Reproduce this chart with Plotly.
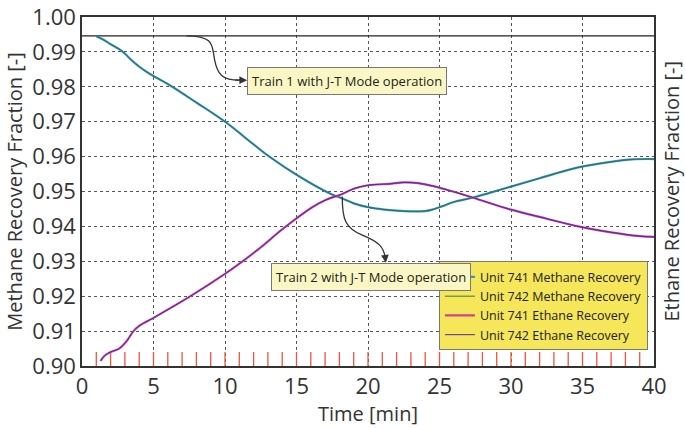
import plotly.graph_objects as go

# ---- data ----
time_methane = [1.0, 1.5, 2.0, 2.6, 3.0, 3.5, 4.0, 4.7, 6.0, 8.0, 10.0, 12.0, 13.1, 15.2,
                17.3, 18.2, 19.0, 20.0, 21.0, 22.0, 23.0, 24.0, 24.5, 25.2, 26.0, 27.3,
                28.5, 30.0, 32.0, 34.7, 37.0, 38.5, 40.0]
methane_741 = [0.9945, 0.9935, 0.9922, 0.9908, 0.9895, 0.9875, 0.9858, 0.9838, 0.9808, 0.9755,
               0.9700, 0.9635, 0.9600, 0.9543, 0.9495, 0.9480, 0.9466, 0.9455, 0.9449, 0.9445,
               0.9443, 0.9444, 0.9448, 0.9458, 0.9470, 0.9482, 0.9496, 0.9514, 0.9538, 0.9569,
               0.9585, 0.9592, 0.9593]
methane_742 = [0.9945, 0.9935, 0.9922, 0.9908, 0.9895, 0.9875, 0.9858, 0.9838, 0.9808, 0.9755,
               0.9700, 0.9635, 0.9600, 0.9543, 0.9495, 0.9480, 0.9466, 0.9455, 0.9449, 0.9445,
               0.9443, 0.9444, 0.9448, 0.9458, 0.9470, 0.9482, 0.9496, 0.9514, 0.9538, 0.9569,
               0.9585, 0.9592, 0.9593]

time_ethane = [1.3, 1.6, 2.0, 2.6, 3.1, 3.6, 4.0, 5.0, 7.5, 10.1, 11.2, 12.5, 13.8, 14.7,
               16.1, 17.0, 18.2, 19.0, 20.0, 21.5, 22.5, 23.5, 24.5, 25.5, 27.3, 30.0,
               32.5, 34.7, 37.0, 39.0, 40.0]
ethane_741 = [0.9015, 0.9030, 0.9040, 0.9050, 0.9070, 0.9100, 0.9115, 0.9138, 0.9198, 0.9267,
              0.9299, 0.9340, 0.9385, 0.9414, 0.9455, 0.9475, 0.9493, 0.9508, 0.9518, 0.9522,
              0.9526, 0.9524, 0.9516, 0.9505, 0.9483, 0.9448, 0.9422, 0.9400, 0.9383, 0.9372,
              0.9370]
ethane_742 = [0.9015, 0.9030, 0.9040, 0.9050, 0.9070, 0.9100, 0.9115, 0.9138, 0.9198, 0.9267,
              0.9299, 0.9340, 0.9385, 0.9414, 0.9455, 0.9475, 0.9493, 0.9508, 0.9518, 0.9522,
              0.9526, 0.9524, 0.9516, 0.9505, 0.9483, 0.9448, 0.9422, 0.9400, 0.9383, 0.9372,
              0.9370]

baseline_x = [0, 40]
baseline_y = [0.9946, 0.9946]

x_minor_ticks = list(range(1, 40))
axis_floor = 0.90
y_ticks = [0.90, 0.91, 0.92, 0.93, 0.94, 0.95, 0.96, 0.97, 0.98, 0.99, 1.00]
y_ticklabels = ["0.90", "0.91", "0.92", "0.93", "0.94", "0.95", "0.96", "0.97", "0.98", "0.99", "1.00"]

train1_label = "Train 1 with J-T Mode operation"
train2_label = "Train 2 with J-T Mode operation"
right_title = "Ethane Recovery Fraction [-]"

FONT = "Open Sans, Noto Sans, sans-serif"
LEG_FONT = "Open Sans, Noto Sans, sans-serif"
INK = "#333333"

fig = go.Figure()

fig.add_trace(go.Scatter(x=baseline_x, y=baseline_y, mode="lines",
                         line=dict(color="#222222", width=1.3), showlegend=False, hoverinfo="skip"))
# minute tick marks along the time axis (vertical line markers, lower half clipped by the frame)
fig.add_trace(go.Scatter(x=x_minor_ticks, y=[axis_floor] * len(x_minor_ticks), mode="markers",
                         marker=dict(symbol="line-ns-open", size=20, line=dict(color=INK, width=1.3)),
                         cliponaxis=True, showlegend=False, hoverinfo="skip"))
fig.add_trace(go.Scatter(x=time_methane, y=methane_741, mode="lines", name="Unit 741 Methane Recovery",
                         line=dict(color="#3596c8", width=2.2, shape="spline")))
fig.add_trace(go.Scatter(x=time_methane, y=methane_742, mode="lines", name="Unit 742 Methane Recovery",
                         line=dict(color="#2a6a4a", width=0.9, shape="spline")))
fig.add_trace(go.Scatter(x=time_ethane, y=ethane_741, mode="lines", name="Unit 741 Ethane Recovery",
                         line=dict(color="#d2409a", width=2.2, shape="spline")))
fig.add_trace(go.Scatter(x=time_ethane, y=ethane_742, mode="lines", name="Unit 742 Ethane Recovery",
                         line=dict(color="#4a2ab0", width=1.0, shape="spline")))

# curved leader lines
fig.add_shape(type="path", xref="x", yref="y",
              path="M 7.3,0.9946 C 9.0,0.9946 9.1,0.9925 9.2,0.9895 C 9.35,0.9850 9.6,0.9822 10.6,0.9820 L 11.2,0.9819",
              line=dict(color=INK, width=1.3))
fig.add_annotation(x=11.55, y=0.9819, ax=10.6, ay=0.9819, xref="x", yref="y", axref="x", ayref="y",
                   text="", showarrow=True, arrowhead=2, arrowsize=1.2, arrowwidth=1.3, arrowcolor=INK)
fig.add_shape(type="path", xref="x", yref="y",
              path="M 18.2,0.9486 C 18.2,0.9420 18.4,0.9395 19.6,0.9375 C 20.8,0.9355 21.1,0.9340 21.2,0.9310",
              line=dict(color=INK, width=1.3))
fig.add_annotation(x=21.25, y=0.9296, ax=21.2, ay=0.9312, xref="x", yref="y", axref="x", ayref="y",
                   text="", showarrow=True, arrowhead=2, arrowsize=1.2, arrowwidth=1.3, arrowcolor=INK)

fig.add_annotation(x=11.55, y=0.9818, xref="x", yref="y", xanchor="left", yanchor="middle",
                   text=train1_label, showarrow=False,
                   font=dict(family=LEG_FONT, size=13, color="#222222"),
                   bgcolor="#fbf7c4", bordercolor="#777777", borderwidth=1, borderpad=4)
fig.add_annotation(x=13.2, y=0.9255, xref="x", yref="y", xanchor="left", yanchor="middle",
                   text=train2_label, showarrow=False,
                   font=dict(family=LEG_FONT, size=13, color="#222222"),
                   bgcolor="#fbf7c4", bordercolor="#777777", borderwidth=1, borderpad=4)

# right-hand axis title
fig.add_annotation(x=1.0, y=0.5, xref="paper", yref="paper", xanchor="center", yanchor="middle",
                   xshift=17, textangle=-90, text=right_title, showarrow=False,
                   font=dict(family=FONT, size=20, color=INK))

fig.update_layout(
    width=685, height=428,
    margin=dict(l=82, r=31, t=17, b=62),
    paper_bgcolor="white", plot_bgcolor="white",
    font=dict(family=FONT, color=INK),
    legend=dict(x=0.624, y=0.300, xanchor="left", yanchor="top",
                bgcolor="#f5e65a", bordercolor="#777777", borderwidth=1,
                font=dict(family=LEG_FONT, size=12.5, color="#222222"),
                tracegroupgap=0, itemwidth=30),
    xaxis=dict(range=[0, 40], dtick=5, ticks="",
               showline=True, linecolor=INK, linewidth=1.5, mirror=True, automargin=False,
               showgrid=True, gridcolor="#555555", griddash="dot", gridwidth=1,
               tickfont=dict(size=22, family=FONT, color=INK),
               title=dict(text="Time [min]", font=dict(size=20, family=FONT, color=INK), standoff=2),
               zeroline=False),
    yaxis=dict(range=[0.90, 1.00], tickvals=y_ticks, ticktext=y_ticklabels, ticks="",
               showline=True, linecolor=INK, linewidth=1.5, mirror=True, automargin=False,
               showgrid=True, gridcolor="#555555", griddash="dot", gridwidth=1,
               tickfont=dict(size=22, family=FONT, color=INK),
               title=dict(text="Methane Recovery Fraction [-]", font=dict(size=20, family=FONT, color=INK), standoff=4),
               zeroline=False),
)

fig.write_html("out.html")
